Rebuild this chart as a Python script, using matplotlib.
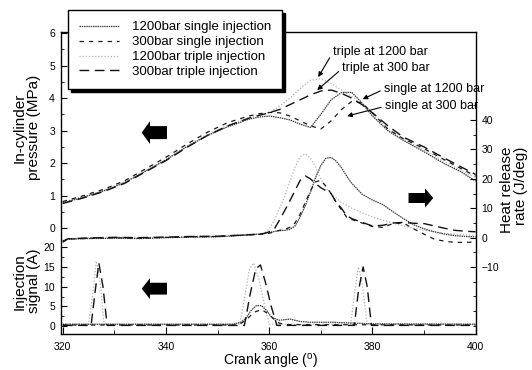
import matplotlib
matplotlib.use('Agg')
import matplotlib.pyplot as plt
from matplotlib.patches import FancyArrow
from matplotlib.ticker import FixedLocator

plt.rcParams['font.family'] = ['Liberation Sans', 'DejaVu Sans']
plt.rcParams['mathtext.fontset'] = 'custom'
plt.rcParams['mathtext.rm'] = 'Liberation Sans'

# In-cylinder pressure (MPa)
p_crank = [320, 324, 328, 332, 336, 340, 344, 348, 352, 356, 358, 360, 362, 364,
           366, 368, 370, 372, 374, 376, 378, 380, 383, 386, 390, 394, 397, 400]
p_1200_single = [0.78, 0.95, 1.15, 1.40, 1.75, 2.10, 2.50, 2.85, 3.12, 3.35, 3.42, 3.45, 3.40, 3.33,
                 3.20, 3.10, 3.50, 3.95, 4.17, 4.18, 3.85, 3.45, 3.00, 2.70, 2.35, 1.98, 1.75, 1.45]
p_300_single = [0.82, 1.00, 1.20, 1.46, 1.82, 2.18, 2.58, 2.95, 3.25, 3.45, 3.52, 3.56, 3.55, 3.45,
                3.30, 3.15, 3.05, 3.30, 3.65, 3.90, 3.85, 3.55, 3.05, 2.75, 2.45, 2.10, 1.85, 1.60]
p_1200_triple = [0.80, 0.97, 1.17, 1.42, 1.77, 2.12, 2.52, 2.88, 3.17, 3.40, 3.48, 3.55, 3.75, 4.00,
                 4.30, 4.55, 4.60, 4.45, 4.25, 4.05, 3.80, 3.50, 3.05, 2.75, 2.40, 2.05, 1.80, 1.55]
p_300_triple = [0.76, 0.93, 1.13, 1.38, 1.73, 2.08, 2.48, 2.85, 3.15, 3.38, 3.47, 3.55, 3.65, 3.80,
                3.95, 4.10, 4.22, 4.25, 4.15, 4.00, 3.80, 3.55, 3.15, 2.80, 2.50, 2.15, 1.90, 1.65]

# Heat release rate (J/deg)
h_crank = [320, 321, 325, 330, 335, 340, 345, 350, 355, 358, 359, 360, 361, 362, 363, 364, 365,
           366, 367, 368, 369, 370, 371, 372, 373, 374, 375, 376, 378, 380, 382, 384, 386,
           388, 390, 392, 394, 396, 398, 400]
h_1200_single = [-1.5, -0.5, -0.3, -0.2, -0.3, 0.0, 0.2, 0.3, 0.8, 1.2, 1.5, 1.8, 2.1, 2.4, 2.5, 2.8, 4.0,
                 7.0, 11.0, 15.5, 20.5, 24.5, 27.0, 27.3, 26.0, 23.8, 21.0, 18.5, 14.8, 12.8, 11.3, 8.8, 6.5,
                 4.4, 3.0, 2.0, 1.2, 0.7, 0.4, 0.3]
h_300_single = [-1.5, -0.5, -0.2, 0.0, -0.2, 0.1, 0.3, 0.4, 0.9, 1.1, 1.3, 1.5, 2.0, 2.5, 2.8, 3.5, 5.0,
                8.0, 12.0, 16.0, 19.0, 19.5, 17.5, 15.0, 12.0, 9.5, 7.0, 6.2, 5.0, 3.8, 3.5, 4.8, 5.0,
                3.0, 1.2, -0.5, -1.2, -1.6, -1.6, -1.5]
h_1200_triple = [-1.0, -0.3, 0.0, 0.2, 0.1, 0.3, 0.5, 0.6, 1.0, 1.3, 1.5, 3.0, 6.0, 10.0, 14.0, 19.0, 24.0,
                 27.5, 28.5, 27.0, 24.0, 20.0, 17.0, 15.0, 13.5, 12.0, 11.0, 10.0, 8.5, 7.0, 6.0, 5.0, 4.0,
                 3.2, 2.5, 2.0, 1.5, 1.2, 1.0, 0.8]
h_300_triple = [-1.2, -0.4, -0.1, 0.1, 0.0, 0.2, 0.4, 0.5, 0.9, 1.2, 1.4, 2.0, 3.0, 6.0, 9.2, 12.5, 16.0,
                19.5, 21.0, 20.0, 18.4, 17.0, 16.0, 15.0, 12.0, 10.0, 7.5, 6.5, 5.2, 4.0, 4.2, 5.0, 5.2,
                4.9, 4.8, 4.0, 3.2, 2.5, 2.2, 2.0]

# Injection signal (A)
i_crank_1200_single = [320, 353, 354.5, 355.5, 356.5, 357.5, 358.5, 359.5, 360.5, 362, 364, 366, 368,
                       372, 376, 380, 400]
i_1200_single = [0.5, 0.5, 1.0, 2.0, 4.0, 5.2, 5.2, 4.0, 2.2, 1.5, 1.8, 1.2, 1.0, 1.0, 0.8, 0.6, 0.5]
i_crank_300_single = [320, 354, 355.5, 357, 358.5, 360, 361.5, 363, 400]
i_300_single = [0.3, 0.3, 1.5, 3.5, 4.2, 3.0, 1.0, 0.4, 0.3]
i_crank_1200_triple = [320, 325.0, 325.8, 326.5, 327.2, 328.0, 354.3, 355.2, 356.2, 357.0, 358.0, 359.0,
                       360.0, 375.8, 376.6, 377.3, 378.0, 379.0, 400]
i_1200_triple = [0.5, 0.5, 8.0, 16.5, 12.0, 0.5, 0.5, 7.0, 14.5, 16.0, 12.0, 6.0, 0.5, 0.5, 9.0, 15.0,
                 11.0, 0.5, 0.5]
i_crank_300_triple = [320, 325.5, 326.3, 327.0, 327.8, 328.6, 355.2, 356.3, 357.4, 358.3, 359.3, 360.4,
                      361.5, 376.5, 377.3, 378.2, 379.0, 379.8, 400]
i_300_triple = [0.2, 0.2, 9.0, 16.0, 10.0, 0.2, 0.2, 8.0, 14.5, 15.5, 11.0, 5.0, 0.2, 0.2, 9.0, 15.0,
                10.0, 0.2, 0.2]

labels = ['1200bar single injection', '300bar single injection',
          '1200bar triple injection', '300bar triple injection']
styles = [dict(color='#3c3c3c', ls=(0, (1.2, 0.6)), lw=0.9),
          dict(color='#1a1a1a', ls=(0, (3.5, 4)), lw=0.9),
          dict(color='#b4b4b4', ls=(0, (1, 1.5)), lw=0.9),
          dict(color='#111111', ls=(0, (7, 4)), lw=1.0)]

fig = plt.figure(figsize=(5.32, 3.70), dpi=100)
ax_p = fig.add_axes([0.115, 0.097, 0.780, 0.816])
ax_h = ax_p.twinx()
ax_i = ax_p.twinx()

for ax in (ax_p, ax_h, ax_i):
    ax.set_xlim(319.7, 400.1)
    ax.patch.set_visible(False)
ax_p.set_ylim(-3.26, 6.03)
ax_h.set_ylim(-32.8, 69.9)
ax_i.set_ylim(-2.0, 74.4)

pressure = [p_1200_single, p_300_single, p_1200_triple, p_300_triple]
heat = [h_1200_single, h_300_single, h_1200_triple, h_300_triple]
inj_x = [i_crank_1200_single, i_crank_300_single, i_crank_1200_triple, i_crank_300_triple]
inj_y = [i_1200_single, i_300_single, i_1200_triple, i_300_triple]

for k in (2, 0, 1, 3):
    ax_p.plot(p_crank, pressure[k], label=labels[k], **styles[k])
    ax_h.plot(h_crank, heat[k], **styles[k])
    ax_i.plot(inj_x[k], inj_y[k], **styles[k])
line_map = {l.get_label(): l for l in ax_p.get_lines()}
handles = [line_map[lab] for lab in labels]

# ticks
tick_kw = dict(direction='in', labelsize=7.5, color='k')
ax_p.xaxis.set_major_locator(FixedLocator([320, 340, 360, 380, 400]))
ax_p.xaxis.set_minor_locator(FixedLocator([330, 350, 370, 390]))
ax_p.tick_params(axis='x', which='major', length=5, pad=5.5, **tick_kw)
ax_p.tick_params(axis='x', which='minor', length=3, direction='in')
ax_p.yaxis.set_major_locator(FixedLocator(range(0, 7)))
ax_p.yaxis.set_minor_locator(FixedLocator([0.5, 1.5, 2.5, 3.5, 4.5, 5.5]))
ax_p.tick_params(axis='y', which='major', length=4, pad=4.5, left=True, right=False, **tick_kw)
ax_p.tick_params(axis='y', which='minor', length=2, direction='in', right=False)

ax_i.yaxis.tick_left()
ax_i.yaxis.set_major_locator(FixedLocator([0, 5, 10, 15, 20]))
ax_i.yaxis.set_minor_locator(FixedLocator([2.5, 7.5, 12.5, 17.5]))
ax_i.tick_params(axis='y', which='major', length=4, pad=4.5, **tick_kw)
ax_i.tick_params(axis='y', which='minor', length=2, direction='in')
for s in ax_i.spines.values():
    s.set_visible(False)

ax_h.yaxis.set_major_locator(FixedLocator([-10, 0, 10, 20, 30, 40]))
ax_h.yaxis.set_minor_locator(FixedLocator([-30, -25, -20, -15, -5, 5, 15, 25, 35, 45]))
ax_h.tick_params(axis='y', which='major', length=4, pad=4, **tick_kw)
ax_h.tick_params(axis='y', which='minor', length=2, direction='in')
for s in ax_h.spines.values():
    s.set_visible(False)
for s in ax_p.spines.values():
    s.set_linewidth(1.0)

# block arrows pointing at each curve's own axis
ax_p.add_patch(FancyArrow(340.2, 2.94, -4.9, 0, width=0.40, head_width=0.70, head_length=1.6,
                          length_includes_head=True, color='k', lw=0))
ax_h.add_patch(FancyArrow(387.0, 13.5, 4.8, 0, width=3.4, head_width=6.5, head_length=1.6,
                          length_includes_head=True, color='k', lw=0))
ax_i.add_patch(FancyArrow(340.2, 9.5, -4.9, 0, width=3.0, head_width=5.3, head_length=1.6,
                          length_includes_head=True, color='k', lw=0))

# curve callouts
arrow_kw = dict(arrowstyle='-|>', color='k', lw=0.8, mutation_scale=7, relpos=(0, 0.5),
                shrinkA=1, shrinkB=0)
notes = [('triple at 1200 bar', (369.5, 4.65), (372.4, 5.42)),
         ('triple at 300 bar', (369.3, 4.25), (374.2, 4.92)),
         ('single at 1200 bar', (378.1, 3.97), (382.3, 4.28)),
         ('single at 300 bar', (375.1, 3.45), (382.5, 3.75))]
for txt, tip, pos in notes:
    ax_p.annotate(txt, xy=tip, xytext=pos, fontsize=9, ha='left', va='center',
                  arrowprops=arrow_kw, zorder=6)

fig.text(0.05, 0.655, 'In-cylinder\npressure (MPa)', rotation=90, ha='center', va='center',
         fontsize=11, linespacing=1.0)
fig.text(0.05, 0.24, 'Injection\nsignal (A)', rotation=90, ha='center', va='center',
         fontsize=11, linespacing=1.0)
fig.text(0.967, 0.487, 'Heat release\nrate (J/deg)', rotation=90, ha='center', va='center',
         fontsize=11, linespacing=1.0, multialignment='right')
fig.text(0.508, 0.022, r'Crank angle ($^{\rm o}$)', ha='center', va='center', fontsize=10)

leg = fig.legend(handles=handles, labels=labels, loc='upper left',
                 bbox_to_anchor=(68 / 532, 1 - 10 / 370), bbox_transform=fig.transFigure,
                 borderaxespad=0, fontsize=9.5, handlelength=3.0, handletextpad=1.0,
                 labelspacing=0.2, borderpad=0.85, fancybox=False, framealpha=1,
                 edgecolor='k', shadow={'color': 'black', 'alpha': 1})
leg.get_frame().set_linewidth(1.0)

fig.savefig('out.png', dpi=100)
